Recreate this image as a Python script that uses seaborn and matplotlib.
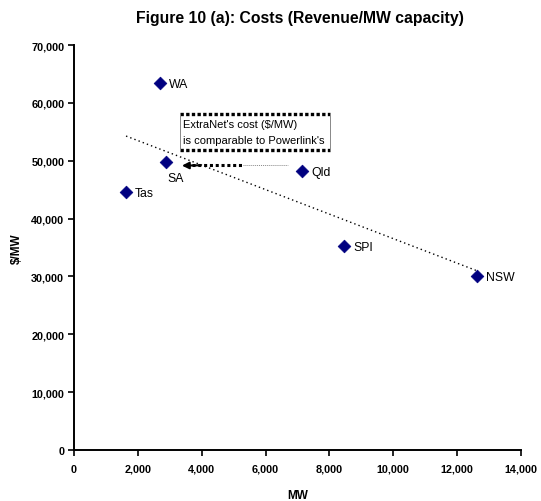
import matplotlib
matplotlib.use("Agg")
import matplotlib.pyplot as plt
import seaborn as sns
import pandas as pd

# Network revenue per MW of capacity, by jurisdiction
regions = ["WA", "SA", "Tas", "Qld", "SPI", "NSW"]
capacity_mw = [2690, 2870, 1630, 7140, 8460, 12610]
cost_per_mw = [63400, 49700, 44600, 48200, 35300, 30100]

x_ticks = [0, 2000, 4000, 6000, 8000, 10000, 12000, 14000]
y_ticks = [0, 10000, 20000, 30000, 40000, 50000, 60000, 70000]

df = pd.DataFrame({"region": regions, "MW": capacity_mw, "cost": cost_per_mw})

sns.set_theme(style="white")
plt.rcParams["font.family"] = ["Liberation Sans", "DejaVu Sans"]
plt.rcParams["text.color"] = "black"
plt.rcParams["axes.labelcolor"] = "black"
plt.rcParams["xtick.color"] = "black"
plt.rcParams["ytick.color"] = "black"

fig = plt.figure(figsize=(5.41, 5.02), dpi=100)
ax = fig.add_axes([74 / 541, 1 - 451 / 502, (521 - 74) / 541, (451 - 46) / 502])

# least-squares trend across the data range
sns.regplot(data=df, x="MW", y="cost", ax=ax, scatter=False, ci=None,
            truncate=True, color="black",
            line_kws=dict(linestyle=(0, (1, 2.2)), linewidth=1.0))

sns.scatterplot(data=df, x="MW", y="cost", ax=ax, marker="D", s=42,
                color="#000080", edgecolor="#000080", linewidth=0.5, zorder=5)

for name, xv, yv in zip(regions, capacity_mw, cost_per_mw):
    if name == "SA":
        ax.annotate(name, (xv, yv), xytext=(7, -11), textcoords="offset points",
                    ha="center", va="center", fontsize=8.8, color="black")
    else:
        ax.annotate(name, (xv, yv), xytext=(6.5, -0.8), textcoords="offset points",
                    ha="left", va="center", fontsize=8.8, color="black")

# callout box
bx0, bx1, by0, by1 = 3320, 8020, 51900, 58050
ax.plot([bx0, bx1], [by1, by1], color="black", linewidth=2.4,
        linestyle=(0, (1.0, 0.7)), solid_capstyle="butt", zorder=4)
ax.plot([bx0, bx1], [by0, by0], color="black", linewidth=2.4,
        linestyle=(0, (1.0, 0.7)), solid_capstyle="butt", zorder=4)
ax.plot([bx0, bx0], [by0, by1], color="#888888", linewidth=0.7, zorder=4)
ax.plot([bx1, bx1], [by0, by1], color="#888888", linewidth=0.7, zorder=4)
ax.text(bx0 + 80, 56300, "ExtraNet's cost ($/MW)", fontsize=8, ha="left", va="center")
ax.text(bx0 + 80, 53600, "is comparable to Powerlink's", fontsize=8, ha="left", va="center")

# arrow pointing at SA
ax.plot([3700, 5300], [49200, 49200], color="black", linewidth=2.2,
        linestyle=(0, (1.0, 0.9)), zorder=4)
ax.plot([5300, 6700], [49200, 49200], color="#888888", linewidth=0.7,
        linestyle=(0, (1, 1)), zorder=4)
ax.annotate("", xy=(3380, 49150), xytext=(3900, 49200),
            arrowprops=dict(arrowstyle="-|>", color="black", lw=1.5,
                            mutation_scale=10, shrinkA=0, shrinkB=0), zorder=4)

ax.set_xlim(0, 14000)
ax.set_ylim(0, 70000)
ax.set_xticks(x_ticks)
ax.set_yticks(y_ticks)
ax.set_xticklabels([f"{v:,}" for v in x_ticks], fontsize=7.8, fontweight="bold")
ax.set_yticklabels([f"{v:,}" for v in y_ticks], fontsize=7.8, fontweight="bold")
ax.tick_params(axis="x", direction="out", length=4, width=1.2, color="black",
               labelcolor="black", pad=6, bottom=True)
ax.tick_params(axis="y", direction="out", length=4, width=1.2, color="black",
               labelcolor="black", pad=3, left=True)

for side in ["top", "right"]:
    ax.spines[side].set_visible(False)
for side in ["left", "bottom"]:
    ax.spines[side].set_color("black")
    ax.spines[side].set_linewidth(1.4)

ax.set_xlabel("MW", fontsize=8.5, fontweight="bold", labelpad=11, color="black")
ax.set_ylabel("$/MW", fontsize=8.5, fontweight="bold", labelpad=6, color="black")

fig.text(0.555, 1 - 18 / 502, "Figure 10 (a): Costs (Revenue/MW capacity)",
         ha="center", va="center", fontsize=11.3, fontweight="bold", color="black")

fig.savefig("out.png", dpi=100, facecolor="white")
